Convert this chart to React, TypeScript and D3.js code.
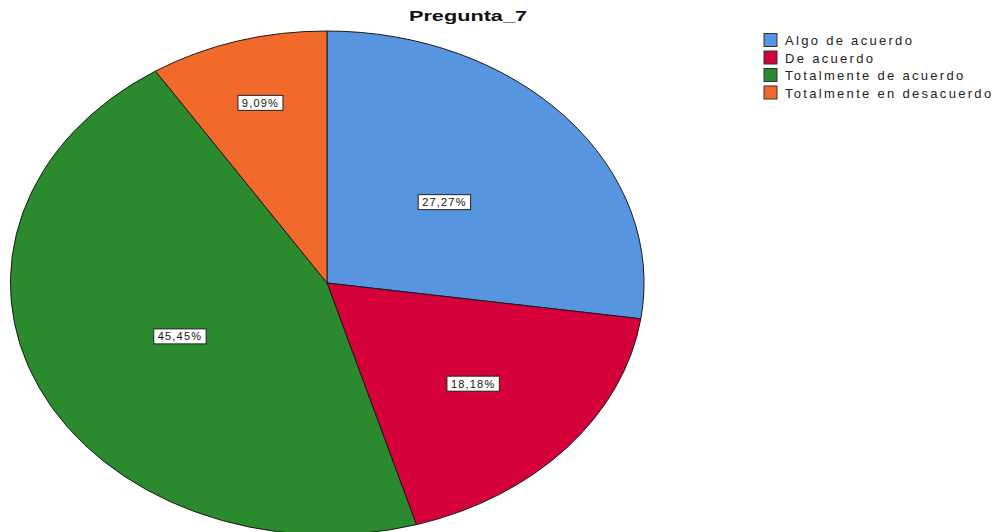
import React from "react";
import * as d3 from "d3";

const categories = ["Algo de acuerdo", "De acuerdo", "Totalmente de acuerdo", "Totalmente en desacuerdo"];
const percentages = [27.27, 18.18, 45.45, 9.09];
const labels = ["27,27%", "18,18%", "45,45%", "9,09%"];
const title = "Pregunta_7";

const colors = ["#5895E1", "#D5003A", "#2B8A2D", "#F26A2B"];
const labelRadiusFrac = [0.49, 0.61, 0.51, 0.745];

const W = 1000;
const H = 532;
const cx = 327;
const cy = 283;
const rx = 317;
const ry = 252;

export default function App() {
  const pie = d3.pie<number>().sort(null).value((d) => d)(percentages);
  const arc = d3.arc<d3.PieArcDatum<number>>().innerRadius(0).outerRadius(1);

  return (
    <svg
      width={W}
      height={H}
      style={{ position: "fixed", left: 0, top: 0, background: "#fff" }}
      fontFamily="Arial, 'Liberation Sans', sans-serif"
    >
      <rect width={W} height={H} fill="#fff" />
      <text
        transform={`translate(468,21) scale(1.55,1)`}
        textAnchor="middle"
        fontSize={14}
        fontWeight="bold"
        fill="#111"
      >
        {title}
      </text>
      <g transform={`translate(${cx},${cy}) scale(${rx},${ry})`}>
        {pie.map((p, i) => (
          <path
            key={i}
            d={arc(p) || ""}
            fill={colors[i]}
            stroke="#1a1a1a"
            strokeWidth={1}
            vectorEffect="non-scaling-stroke"
          />
        ))}
      </g>
      {pie.map((p, i) => {
        const mid = (p.startAngle + p.endAngle) / 2;
        const f = labelRadiusFrac[i];
        const x = cx + Math.sin(mid) * rx * f;
        const y = cy - Math.cos(mid) * ry * f;
        const tw = labels[i].length * 7.4 + 8;
        return (
          <g key={i} transform={`translate(${x},${y})`}>
            <rect x={-tw / 2} y={-7.5} width={tw} height={15} fill="#fff" stroke="#222" strokeWidth={1} />
            <text textAnchor="middle" y={4} fontSize={11} letterSpacing={1.2} fill="#111">
              {labels[i]}
            </text>
          </g>
        );
      })}
      <g>
        {categories.map((c, i) => {
          const y = 40 + i * 17.5;
          return (
            <g key={c}>
              <rect x={764} y={y - 6.5} width={13} height={13} fill={colors[i]} stroke="#333" strokeWidth={1} />
              <text x={785} y={y + 5} fontSize={13} letterSpacing={2.3} fill="#222">
                {c}
              </text>
            </g>
          );
        })}
      </g>
    </svg>
  );
}
